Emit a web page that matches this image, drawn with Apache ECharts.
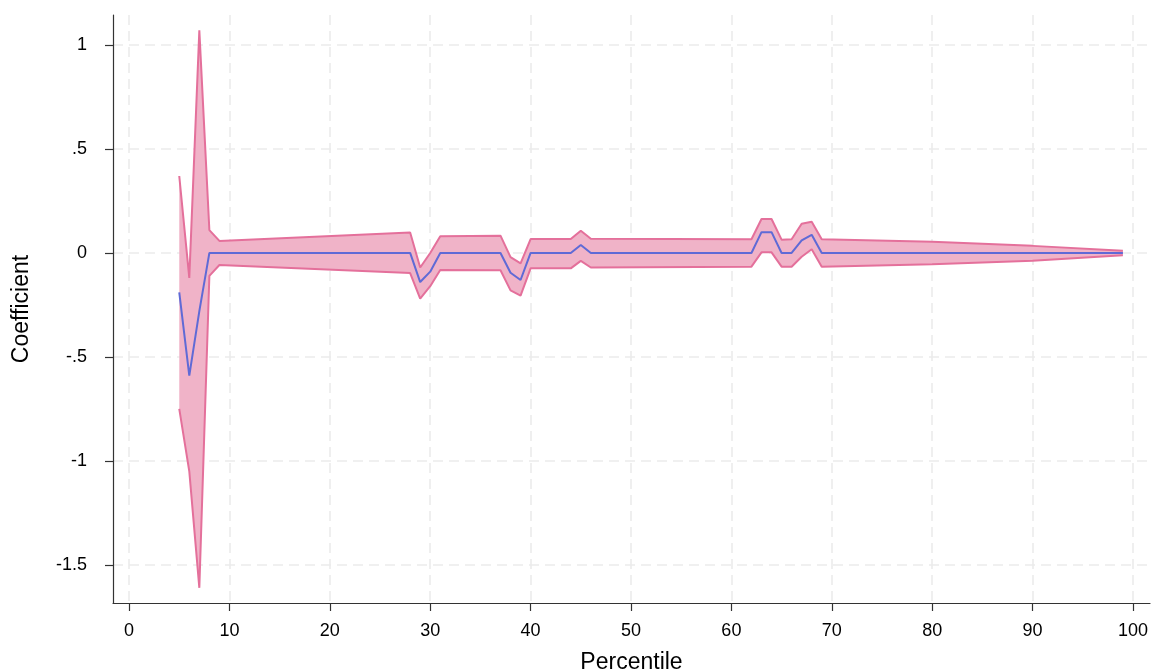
<!DOCTYPE html>
<html>
<head>
<meta charset="utf-8">
<script src="https://cdn.jsdelivr.net/npm/echarts@6/dist/echarts.min.js"></script>
<style>
html,body{margin:0;padding:0;background:#fff;}
#chart{width:1155px;height:671px;}
</style>
</head>
<body>
<div id="chart"></div>
<script>
// Data
const percentiles = [5, 6, 7, 8, 9, 28, 29, 30, 31, 37, 38, 39, 40, 44, 45, 46, 62, 63, 64, 65, 66, 67, 68, 69, 80, 90, 99];
const coefficient = [-0.19, -0.59, -0.28, 0, 0, 0, -0.14, -0.09, 0, 0, -0.095, -0.13, 0, 0, 0.038, 0, 0, 0.10, 0.10, 0, 0, 0.06, 0.087, 0, 0, 0, 0];
const upperCI = [0.37, -0.12, 1.07, 0.11, 0.058, 0.098, -0.07, 0.0, 0.08, 0.083, -0.02, -0.05, 0.067, 0.067, 0.107, 0.068, 0.066, 0.163, 0.163, 0.064, 0.066, 0.14, 0.15, 0.066, 0.054, 0.034, 0.011];
const lowerCI = [-0.75, -1.05, -1.61, -0.11, -0.058, -0.097, -0.22, -0.16, -0.082, -0.083, -0.18, -0.205, -0.074, -0.074, -0.038, -0.07, -0.066, 0.003, 0.003, -0.066, -0.066, -0.018, 0.018, -0.066, -0.054, -0.037, -0.011];
const xTicks = [0, 10, 20, 30, 40, 50, 60, 70, 80, 90, 100];
const yTicks = [-1.5, -1, -0.5, 0, 0.5, 1];
const xTitle = 'Percentile';
const yTitle = 'Coefficient';

const pair = (ys) => percentiles.map((x, i) => [x, ys[i]]);
const bandData = percentiles.map((x, i) => [x, upperCI[i], lowerCI[i]]);

const FONT = '"Liberation Sans", Arial, Helvetica, sans-serif';
const FILL = '#F0B3C8';
const EDGE = '#E4709B';
const BLUE = '#5F6AD6';
const GRID = '#EBEBEB';

function stataLabel(v) {
  if (Math.abs(v) < 1e-9) return '0';
  let s = String(Math.round(v * 100) / 100);
  s = s.replace(/^0\./, '.').replace(/^-0\./, '-.');
  return s;
}

function renderBand(params, api) {
  if (params.dataIndex !== 0) return null;
  const top = [], bottom = [];
  for (let i = 0; i < bandData.length; i++) {
    top.push(api.coord([bandData[i][0], bandData[i][1]]));
    bottom.push(api.coord([bandData[i][0], bandData[i][2]]));
  }
  const pts = top.concat(bottom.reverse());
  return {
    type: 'polygon',
    shape: {points: pts},
    style: {fill: FILL, stroke: null},
    silent: true
  };
}

const chart = echarts.init(document.getElementById('chart'), null, {renderer: 'canvas'});
chart.setOption({
  animation: false,
  backgroundColor: '#ffffff',
  grid: {left: 113, right: 5, top: 15, bottom: 68, containLabel: false, outerBoundsMode: 'none'},
  xAxis: {
    type: 'value',
    min: -1.6,
    max: 101.7,
    name: xTitle,
    nameLocation: 'middle',
    nameGap: 48,
    nameTextStyle: {fontFamily: FONT, fontSize: 23, color: '#000'},
    axisLine: {show: true, onZero: false, lineStyle: {color: '#333', width: 1.2}},
    axisTick: {show: true, length: 8, customValues: xTicks, lineStyle: {color: '#333', width: 1.2}},
    axisLabel: {customValues: xTicks, fontFamily: FONT, fontSize: 18, color: '#000', margin: 19},
    splitLine: {show: true, lineStyle: {color: GRID, width: 1.6, type: [10, 6]}}
  },
  yAxis: {
    type: 'value',
    min: -1.683,
    max: 1.144,
    name: yTitle,
    nameLocation: 'middle',
    nameGap: 80,
    nameRotate: 90,
    nameTextStyle: {fontFamily: FONT, fontSize: 23, color: '#000'},
    axisLine: {show: true, onZero: false, lineStyle: {color: '#333', width: 1.2}},
    axisTick: {show: true, length: 8, customValues: yTicks, lineStyle: {color: '#333', width: 1.2}},
    axisLabel: {customValues: yTicks, fontFamily: FONT, fontSize: 18, color: '#000', margin: 26, formatter: stataLabel},
    splitLine: {show: true, lineStyle: {color: GRID, width: 1.6, type: [10, 6]}}
  },
  series: [
    {
      name: 'band', type: 'custom', data: bandData,
      encode: {x: 0, y: [1, 2]},
      renderItem: renderBand, silent: true, z: 1, clip: true
    },
    {
      name: 'upper', type: 'line', data: pair(upperCI),
      symbol: 'none', lineStyle: {color: EDGE, width: 2}, z: 2
    },
    {
      name: 'lower', type: 'line', data: pair(lowerCI),
      symbol: 'none', lineStyle: {color: EDGE, width: 2}, z: 2
    },
    {
      name: 'coef', type: 'line', data: pair(coefficient),
      symbol: 'none', lineStyle: {color: BLUE, width: 2}, z: 3
    }
  ]
});
</script>
</body>
</html>
